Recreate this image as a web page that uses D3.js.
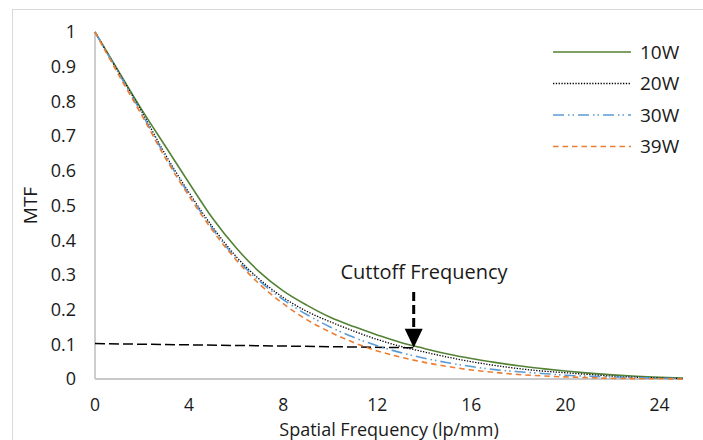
<!DOCTYPE html>
<html>
<head>
<meta charset="utf-8">
<script src="https://cdn.jsdelivr.net/npm/d3@7"></script>
<style>
  body { margin: 0; background: #fff; }
  svg text { font-family: "Open Sans", "Noto Sans", sans-serif; fill: #1a1a1a; }
</style>
</head>
<body>
<svg id="chart" width="703" height="440"></svg>
<script>
// spatial frequency samples (lp/mm)
const freq = [0, 1, 2, 3, 4, 5, 6, 7, 8, 9, 10, 11, 12, 13, 14, 15, 16, 17, 18, 19, 20, 21, 22, 23, 24, 25]

// MTF
const mtf10W = [1, .887, .775, .67, .565, .463, .378, .308, .254, .213, .178, .151, .127, .105, .088, .072, .059, .048, .038, .03, .023, .017, .012, .008, .005, .003]
const mtf20W = [1, .884, .769, .646, .537, .438, .353, .287, .235, .195, .165, .138, .114, .094, .078, .063, .05, .039, .03, .023, .018, .013, .008, .005, .003, .001]
const mtf30W = [1, .882, .764, .641, .532, .433, .348, .282, .229, .186, .15, .12, .096, .076, .06, .047, .036, .027, .021, .016, .011, .008, .006, .004, .002, .001]
const mtf39W = [1, .877, .759, .636, .527, .428, .343, .273, .217, .171, .135, .105, .081, .063, .048, .036, .026, .019, .013, .009, .006, .004, .002, .001, .0007, 0]

const seriesNames = ['10W', '20W', '30W', '39W']
const xTicks = [0, 4, 8, 12, 16, 20, 24]
const yTicks = [0, 0.1, 0.2, 0.3, 0.4, 0.5, 0.6, 0.7, 0.8, 0.9, 1]

// cutoff annotation
const cutoffX = 13.55
const cutoffY = 0.09
const cutoffStartY = 0.102

const styles = {
    '10W': { color: '#548235', dash: null, width: 1.6 },
    '20W': { color: '#000000', dash: '1.3,1.5', width: 1.3 },
    '30W': { color: '#5b9bd5', dash: '11,4,1.5,3,1.5,4', width: 1.6 },
    '39W': { color: '#ed7d31', dash: '5.5,4', width: 1.6 },
}

const svg = d3.select('#chart')

// chart border
svg.append('rect')
    .attr('x', 12.5).attr('y', 9.5)
    .attr('width', 700).attr('height', 440)
    .attr('fill', 'none').attr('stroke', '#d9d9d9')

const x = d3.scaleLinear().domain([0, 25]).range([95, 683])
const y = d3.scaleLinear().domain([0, 1]).range([379, 32])

// axis lines
svg.append('line')
    .attr('x1', x(0)).attr('x2', x(0)).attr('y1', y(1)).attr('y2', y(0))
    .attr('stroke', '#c8c8c8').attr('stroke-width', 1.8)
svg.append('line')
    .attr('x1', x(0)).attr('x2', x(25)).attr('y1', y(0)).attr('y2', y(0))
    .attr('stroke', '#c8c8c8').attr('stroke-width', 1.8)

// tick labels
svg.selectAll('.ytick')
    .data(yTicks)
    .enter()
    .append('text')
    .attr('class', 'ytick')
    .attr('x', 76)
    .attr('y', d => y(d))
    .attr('dy', '0.35em')
    .attr('text-anchor', 'end')
    .style('font-size', '18px')
    .text(d => d3.format('~g')(d))

svg.selectAll('.xtick')
    .data(xTicks)
    .enter()
    .append('text')
    .attr('class', 'xtick')
    .attr('x', d => x(d))
    .attr('y', 411)
    .style('font-size', '17.5px')
    .attr('text-anchor', 'middle')
    .text(d => d)

// axis titles
svg.append('text')
    .attr('x', (x(0) + x(25)) / 2)
    .attr('y', 436)
    .attr('text-anchor', 'middle')
    .style('font-size', '18px')
    .text('Spatial Frequency (lp/mm)')

svg.append('text')
    .attr('transform', `translate(30,${(y(0) + y(1)) / 2}) rotate(-90)`)
    .attr('dy', '0.35em')
    .attr('text-anchor', 'middle')
    .style('font-size', '19px')
    .text('MTF')

// cutoff helper line
svg.append('line')
    .attr('x1', x(0)).attr('y1', y(cutoffStartY))
    .attr('x2', x(cutoffX)).attr('y2', y(cutoffY))
    .attr('stroke', '#000').attr('stroke-width', 1.5)
    .attr('stroke-dasharray', '10,4')

// curves
const allSeries = [mtf10W, mtf20W, mtf30W, mtf39W]
const line = d3.line()
    .x((d, i) => x(freq[i]))
    .y(d => y(d))
    .curve(d3.curveMonotoneX)

svg.selectAll('.curve')
    .data(allSeries)
    .enter()
    .append('path')
    .attr('class', 'curve')
    .attr('d', d => line(d))
    .attr('fill', 'none')
    .attr('stroke', (d, i) => styles[seriesNames[i]].color)
    .attr('stroke-width', (d, i) => styles[seriesNames[i]].width)
    .attr('stroke-dasharray', (d, i) => styles[seriesNames[i]].dash)

// arrow
const ax = x(cutoffX)
const tipY = y(cutoffY)
svg.append('line')
    .attr('x1', ax).attr('x2', ax)
    .attr('y1', 292).attr('y2', tipY - 18)
    .attr('stroke', '#000').attr('stroke-width', 3)
    .attr('stroke-dasharray', '9,4')
svg.append('path')
    .attr('d', `M${ax - 9},${tipY - 19}L${ax + 9},${tipY - 19}L${ax},${tipY}Z`)
    .attr('fill', '#000')

svg.append('text')
    .attr('x', 424)
    .attr('y', 279)
    .attr('text-anchor', 'middle')
    .style('font-size', '20px')
    .text('Cuttoff Frequency')

// legend
const legend = svg.selectAll('.legend')
    .data(seriesNames)
    .enter()
    .append('g')
    .attr('class', 'legend')
    .attr('transform', (d, i) => `translate(0,${52 + i * 31.5})`)

legend.append('line')
    .attr('x1', 553).attr('x2', 631)
    .attr('stroke', d => styles[d].color)
    .attr('stroke-width', d => styles[d].width)
    .attr('stroke-dasharray', d => styles[d].dash)

legend.append('text')
    .attr('x', 640)
    .attr('dy', '0.35em')
    .style('font-size', '19px')
    .text(d => d)
</script>
</body>
</html>
